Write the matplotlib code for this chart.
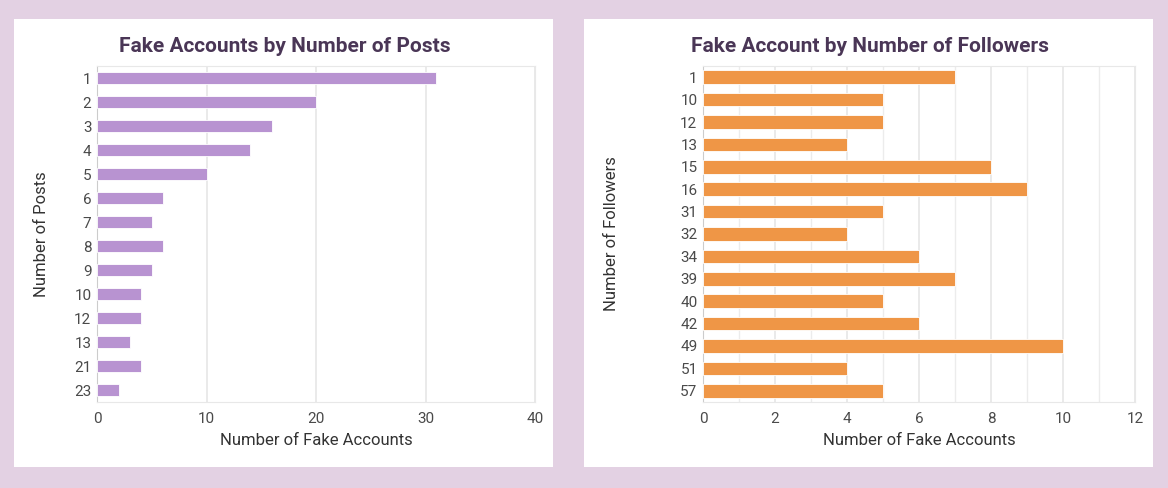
import matplotlib.pyplot as plt
from matplotlib.patches import Rectangle
from matplotlib.ticker import MultipleLocator

plt.rcParams['font.family'] = ['Roboto', 'DejaVu Sans']

posts = ["1", "2", "3", "4", "5", "6", "7", "8", "9", "10", "12", "13", "21", "23"]
posts_count = [31, 20, 16, 14, 10, 6, 5, 6, 5, 4, 4, 3, 4, 2]

followers = ["1", "10", "12", "13", "15", "16", "31", "32", "34", "39", "40", "42", "49", "51", "57"]
followers_count = [7, 5, 5, 4, 8, 9, 5, 4, 6, 7, 5, 6, 10, 4, 5]

W, H = 1168, 488
fig = plt.figure(figsize=(W / 100, H / 100), dpi=100, facecolor='#e3d1e3')

# white panels behind the axes
for x0, x1 in [(14, 553), (584, 1153)]:
    fig.patches.append(Rectangle((x0 / W, 1 - 467 / H), (x1 - x0) / W, (467 - 19) / H,
                                 transform=fig.transFigure, facecolor='white',
                                 edgecolor='none', zorder=-5))

def make_panel(left, right, cats, vals, color, xmax, major, minor, bar_h, title, ylabel, title_x, ylab_x):
    ax = fig.add_axes([left / W, 1 - 402 / H, (right - left) / W, (402 - 66) / H])
    y = list(range(len(cats)))
    ax.barh(y, vals, height=bar_h, color=color, edgecolor='#ffffff', linewidth=0.6, zorder=3)
    ax.set_yticks(y)
    ax.set_yticklabels(cats)
    ax.set_ylim(len(cats) - 0.5, -0.5)
    ax.set_xlim(0, xmax)
    ax.xaxis.set_major_locator(MultipleLocator(major))
    if minor:
        ax.xaxis.set_minor_locator(MultipleLocator(minor))
        ax.grid(axis='x', which='minor', color='#ececec', linewidth=1, zorder=0)
    ax.grid(axis='x', which='major', color='#e6e6e6', linewidth=1.2, zorder=0)
    ax.set_axisbelow(True)
    for s in ['top', 'right', 'bottom']:
        ax.spines[s].set_color('#e8e8e8')
    ax.spines['left'].set_color('#cccccc')
    ax.tick_params(axis='both', which='both', length=0, labelsize=11, labelcolor='#4a4a4a', pad=4)
    ax.tick_params(axis='x', pad=7)
    ax.set_xlabel('Number of Fake Accounts', fontsize=12, color='#333333', labelpad=5)
    fig.text(ylab_x / W, 1 - 234 / H, ylabel, rotation=90, ha='center', va='center',
             fontsize=12, color='#333333')
    fig.text(title_x / W, 1 - 47 / H, title, ha='center', va='center', fontsize=15,
             fontweight='bold', color='#4a3656')
    return ax

make_panel(97, 535, posts, posts_count, '#b893d1', 40, 10, None, 0.5,
           'Fake Accounts by Number of Posts', 'Number of Posts', 285, 42)
make_panel(703, 1135, followers, followers_count, '#ef9646', 12, 2, 1, 0.6,
           'Fake Account by Number of Followers', 'Number of Followers', 870, 612)

fig.savefig('out.png', dpi=100, facecolor=fig.get_facecolor())
